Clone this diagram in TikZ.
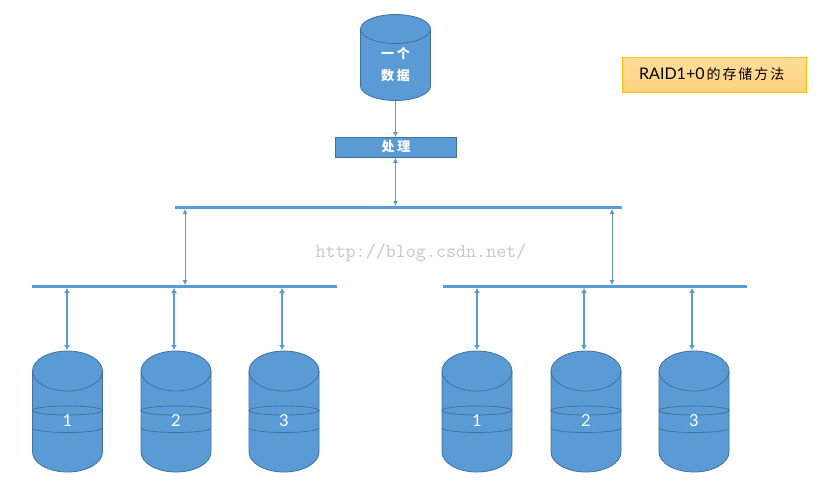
\documentclass[tikz,border=0pt]{standalone}
\usepackage{fontspec}
\setmainfont{Lato}
\newfontfamily\cjk[LetterSpace=23]{Noto Sans CJK SC}
\newfontfamily\cjknote[LetterSpace=14]{Noto Sans CJK SC}
\usetikzlibrary{arrows.meta}
\definecolor{diskblue}{HTML}{5B9BD5}
\definecolor{diskedge}{HTML}{41719C}
\definecolor{noteedge}{HTML}{FFC000}
\definecolor{notetop}{HTML}{FFDD9C}
\definecolor{notebottom}{HTML}{FFD27F}
\tikzset{
	diskbox/.style={rectangle,inner sep=0pt,outer sep=0pt,minimum width=70pt,minimum height=121pt},
	bigbox/.style={diskbox,minimum height=86pt},
	diskline/.style={draw=diskedge,line width=0.8pt},
	bus/.style={fill=diskblue,inner sep=0pt,outer sep=0pt,minimum height=3pt},
	thinlink/.style={draw=diskblue,line width=0.8pt,-{Latex[length=5pt,width=5pt]}},
	thicklink/.style={draw=diskblue,line width=1.8pt,{Latex[length=5pt,width=6pt]}-{Latex[length=5pt,width=6pt]}},
	bothlink/.style={draw=diskblue,line width=0.8pt,{Latex[length=5pt,width=5pt]}-{Latex[length=5pt,width=5pt]}},
	disklabel/.style={text=white,font=\fontsize{16.5}{16.5}\selectfont},
	cjklabel/.style={text=white,font=\fontsize{13}{13}\selectfont\cjk\bfseries}
}
% body and upper end of a drum: node name, end radius
\newcommand{\drum}[2]{
	\draw[diskline,fill=diskblue] ([yshift=-#2pt]#1.north west) -- ([yshift=#2pt]#1.south west)
		arc[start angle=180,end angle=360,x radius=35pt,y radius=#2pt]
		-- ([yshift=-#2pt]#1.north east)
		arc[start angle=0,end angle=180,x radius=35pt,y radius=#2pt] -- cycle;
	\draw[diskline] ([yshift=-#2pt]#1.north west) arc[start angle=180,end angle=360,x radius=35pt,y radius=#2pt];
}
% one disk of the array: name, x, number
\newcommand{\arraydisk}[3]{
	\node[diskbox] (#1) at (#2,411.5) {};
	\drum{#1}{20}
	\draw[diskline] (#1.center) ++(0,-1) ellipse[x radius=35pt,y radius=4.5pt];
	\draw[diskline] (#1.center) ++(-35,16.5) arc[start angle=180,end angle=360,x radius=35pt,y radius=4.5pt];
	\node[disklabel] (#1label) at (#2,420.5) {#3};
}
\begin{document}
\begin{tikzpicture}[x=1pt,y=-1pt]
	\useasboundingbox (0,0) rectangle (825,483);

	\node[bigbox] (data) at (395.5,57.5) {};
	\drum{data}{14.5}
	\node[cjklabel] (datatop) at (395.5,53.5) {一个};
	\node[cjklabel] (databottom) at (395.5,75.5) {数据};
	\node[rectangle,draw=diskedge,fill=diskblue,line width=0.8pt,minimum width=121pt,minimum height=20pt,inner sep=0pt] (proc) at (396,147.5) {};
	\node[cjklabel] (proclabel) at (396,146.5) {处理};

	\node[bus,minimum width=447pt] (topbus) at (398.5,207.5) {};
	\node[bus,minimum width=305pt] (leftbus) at (184.5,286.5) {};
	\node[bus,minimum width=304pt] (rightbus) at (595,286.5) {};

	\arraydisk{la}{67.5}{1}
	\arraydisk{lb}{176}{2}
	\arraydisk{lc}{284}{3}
	\arraydisk{ra}{477}{1}
	\arraydisk{rb}{586}{2}
	\arraydisk{rc}{694}{3}

	\draw[thinlink] (data.south) -- (proc.north -| data.south);
	\draw[bothlink] (proc.south -| data.south) -- (topbus.north -| data.south);
	\coordinate (leftdrop) at (185,207);
	\coordinate (rightdrop) at (612,207);
	\draw[bothlink] (leftdrop |- topbus.south) -- (leftdrop |- leftbus.north);
	\draw[bothlink] (rightdrop |- topbus.south) -- (rightdrop |- rightbus.north);

	\draw[thicklink] ([xshift=-0.5pt]la.north |- leftbus.south) -- ([xshift=-0.5pt,yshift=1pt]la.north);
	\draw[thicklink] ([xshift=-2pt]lb.north |- leftbus.south) -- ([xshift=-2pt,yshift=1pt]lb.north);
	\draw[thicklink] ([xshift=-2pt]lc.north |- leftbus.south) -- ([xshift=-2pt,yshift=1pt]lc.north);
	\draw[thicklink] (rightbus.south -| ra.north) -- ([yshift=1pt]ra.north);
	\draw[thicklink] ([xshift=-2pt]rb.north |- rightbus.south) -- ([xshift=-2pt,yshift=1pt]rb.north);
	\draw[thicklink] ([xshift=-2pt]rc.north |- rightbus.south) -- ([xshift=-2pt,yshift=1pt]rc.north);

	\node[rectangle,draw=noteedge,top color=notetop,bottom color=notebottom,line width=1pt,minimum width=184pt,minimum height=35pt,inner sep=0pt] (note) at (714,74.5) {};
	\node[anchor=west,inner sep=0pt,font=\fontsize{16}{16}\selectfont] (notelabel) at (639,74.5) {RAID1+0\hspace{2pt}{\cjknote\fontsize{14}{14}\selectfont 的存储方法}};

	\node[text=black!22,inner sep=0pt,font=\fontsize{19.5}{19.5}\selectfont\ttfamily] (mark) at (421,253) {http://blog.csdn.net/};
\end{tikzpicture}
\end{document}
